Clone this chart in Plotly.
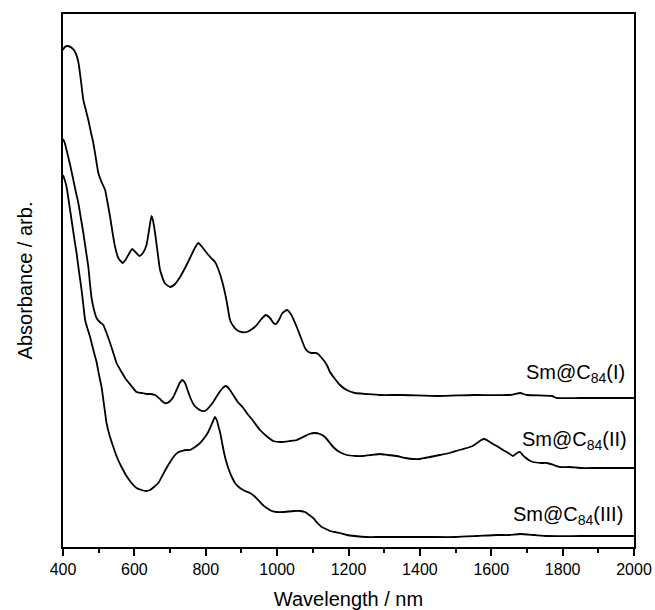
import plotly.graph_objects as go

# Wavelength (nm) and absorbance (arb. units, offset traces)
wl_I = [400, 405, 413, 425, 434, 443, 450, 457, 464, 471, 478, 485, 492, 499, 508, 518, 525, 532, 539, 546,
        555, 567, 575, 583, 594, 603, 614, 624, 634, 642, 648, 653, 658, 665, 672, 685, 700, 714, 728, 742,
        756, 768, 779, 790, 803, 815, 826, 836, 845, 852, 859, 868, 877, 887, 900, 915, 930, 943, 956, 968,
        980, 990, 997, 1005, 1015, 1028, 1040, 1055, 1067, 1078, 1088, 1097, 1108, 1115, 1125, 1134, 1142,
        1148, 1160, 1176, 1195, 1218, 1250, 1288, 1350, 1450, 1550, 1650, 1667, 1681, 1700, 1770, 1784,
        1850, 2000]
abs_I = [497, 500, 501, 499, 495, 485, 467, 447, 437, 427, 415, 404, 389, 374, 365, 357, 344, 330, 314, 300,
         289, 284, 287, 292, 298, 295, 291, 294, 302, 319, 331, 325, 314, 295, 277, 264, 260, 263, 270, 279,
         289, 298, 304, 300, 294, 289, 285, 277, 267, 257, 245, 227, 221, 217, 215, 215, 218, 222, 228, 232,
         229, 224, 223, 227, 234, 237, 232, 220, 209, 199, 195, 194, 194, 193, 189, 185, 180,
         175, 169, 162, 157, 154, 153, 152, 152, 151, 152, 152, 153, 154, 152, 151, 149,
         149, 149]

wl_II = [400, 405, 410, 420, 429, 436, 443, 450, 457, 464, 471, 476, 480, 487, 494, 503, 513, 522, 532, 541,
         550, 564, 578, 592, 606, 620, 634, 646, 658, 672, 684, 692, 700, 709, 718, 727, 735, 742, 749, 756,
         767, 779, 790, 798, 810, 821, 833, 845, 856, 866, 877, 890, 903, 915, 933, 952, 970, 989, 1010, 1036,
         1055, 1073, 1090, 1106, 1120, 1134, 1148, 1157, 1175, 1195, 1220, 1241, 1265, 1288, 1310, 1335, 1360,
         1381, 1400, 1428, 1456, 1484, 1510, 1532, 1548, 1560, 1572, 1582, 1592, 1605, 1620, 1633, 1648, 1661,
         1672, 1681, 1688, 1694, 1705, 1717, 1740, 1756, 1775, 1792, 1820, 1849, 1900, 2000]
abs_II = [408, 404, 397, 382, 367, 355, 344, 329, 314, 297, 280, 262, 249, 237, 229, 225, 222, 214, 204, 194,
          184, 175, 167, 161, 155, 154, 153, 153, 152, 148, 144, 144, 146, 150, 157, 164, 167, 164, 157, 150,
          142, 138, 136, 136, 140, 145, 152, 158, 161, 158, 152, 145, 140, 134, 126, 117, 111, 106, 105, 106,
          107, 110, 113, 114, 113, 110, 104, 100, 95, 92, 91, 91, 92, 93, 92, 91, 89,
          88, 88, 90, 92, 94, 97, 99, 101, 104, 107, 108, 106, 103, 100, 97, 94, 91,
          94, 95, 92, 90, 87, 85, 84, 84, 82, 80, 80, 79, 79, 79]

wl_III = [400, 405, 410, 417, 424, 431, 438, 445, 452, 457, 462, 469, 476, 485, 494, 501, 508, 515, 522, 531,
          541, 552, 564, 578, 592, 606, 620, 632, 644, 655, 667, 678, 690, 702, 714, 724, 733, 745, 756, 770,
          784, 796, 807, 817, 826, 831, 836, 840, 847, 854, 863, 873, 884, 896, 910, 924, 936, 947, 960, 971,
          985, 999, 1020, 1046, 1065, 1078, 1090, 1101, 1113, 1125, 1137, 1148, 1162, 1176, 1196, 1218, 1250,
          1288, 1350, 1428, 1500, 1560, 1616, 1650, 1681, 1720, 1756, 1850, 2000]
abs_III = [372, 367, 360, 344, 327, 310, 294, 275, 257, 242, 227, 218, 210, 197, 185, 172, 160, 142, 124, 111,
           100, 89, 80, 71, 64, 59, 57, 56, 57, 60, 64, 71, 79, 86, 92, 95, 96, 97, 97, 100,
           104, 109, 115, 123, 130, 127, 120, 115, 102, 90, 79, 70, 63, 59, 56, 54, 51, 47, 42, 39,
           36, 35, 35, 36, 36, 35, 32, 29, 24, 20, 18, 16, 15, 14, 12, 11, 10,
           10, 10, 10, 10, 11, 12, 12, 13, 12, 11, 11, 11]

labels = ["Sm@C<sub>84</sub>(I)", "Sm@C<sub>84</sub>(II)", "Sm@C<sub>84</sub>(III)"]
label_x = [1980, 1986, 1975]
label_y = [174, 107, 32]

x_ticks = [400, 600, 800, 1000, 1200, 1400, 1600, 1800, 2000]

FONT = "Liberation Sans, Arial, sans-serif"

fig = go.Figure()
for wl, ab in [(wl_I, abs_I), (wl_II, abs_II), (wl_III, abs_III)]:
    fig.add_trace(go.Scatter(x=wl, y=ab, mode="lines",
                             line=dict(color="black", width=1.8, shape="spline", smoothing=0.5),
                             showlegend=False, hoverinfo="skip"))

for t, xx, yy in zip(labels, label_x, label_y):
    fig.add_annotation(x=xx, y=yy, text=t, showarrow=False, xanchor="right", yanchor="middle",
                       font=dict(family=FONT, size=20, color="black"))

fig.update_layout(
    width=655, height=610,
    margin=dict(l=63, r=21, t=14, b=63),
    paper_bgcolor="white", plot_bgcolor="white",
    font=dict(family=FONT, color="black"),
)
fig.update_xaxes(
    range=[400, 2000], tickvals=x_ticks, ticktext=[str(v) for v in x_ticks],
    ticks="outside", ticklen=7, tickwidth=1.5, tickcolor="black",
    minor=dict(dtick=100, tick0=400, ticks="outside", ticklen=4, tickwidth=1.5, tickcolor="black"),
    showline=True, linecolor="black", linewidth=2, mirror=True,
    showgrid=False, zeroline=False, automargin=False,
    tickfont=dict(size=16, family=FONT, color="black"),
    title=dict(text="Wavelength / nm", font=dict(size=20, family=FONT, color="black"), standoff=17),
)
fig.update_yaxes(
    range=[0, 533], showticklabels=False, ticks="",
    showline=True, linecolor="black", linewidth=2, mirror=True,
    showgrid=False, zeroline=False, automargin=False,
    title=dict(text="Absorbance / arb.", font=dict(size=20, family=FONT, color="black"), standoff=23),
)

fig.write_html("out.html")
